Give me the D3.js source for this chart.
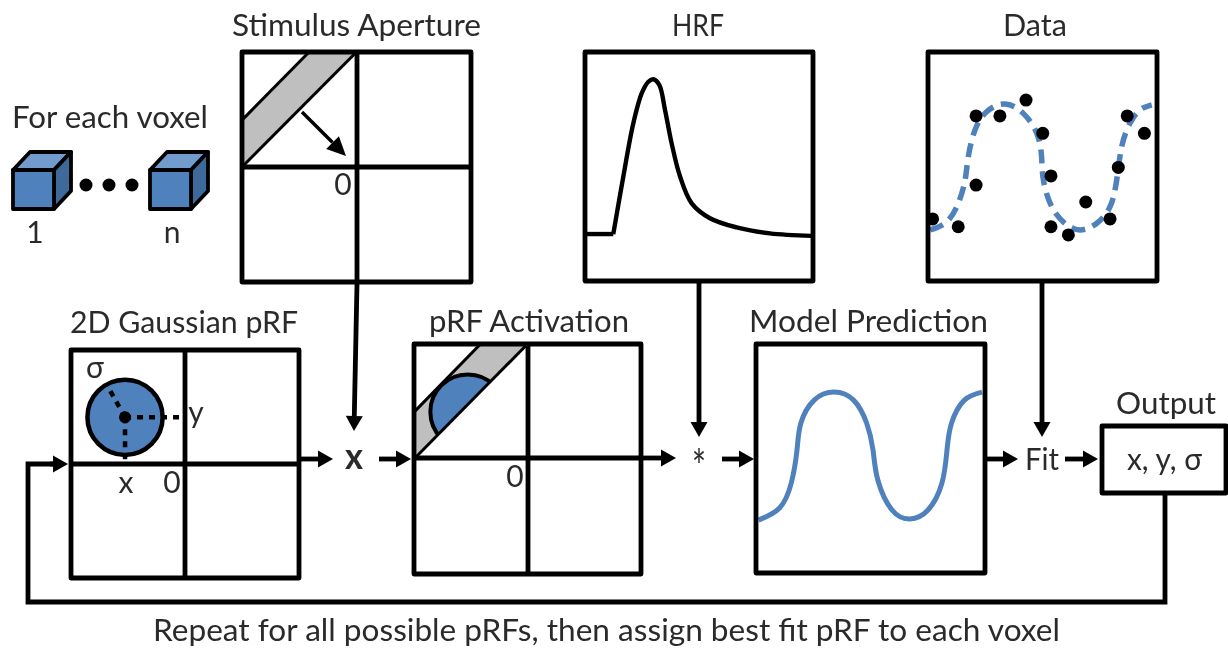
<!DOCTYPE html>
<html><head><meta charset="utf-8">
<script src="https://cdn.jsdelivr.net/npm/d3@7/dist/d3.min.js"></script>
<style>html,body{margin:0;padding:0;background:#fff;overflow:hidden}svg{display:block}
text{font-family:Lato,"Noto Sans",sans-serif;fill:#2b2b2b}</style></head><body>
<script>
// ---- Values (percent of each panel's width / height) ----
const hrfTime   = [0.7,12.4,16.8,21.2,24.9,27.8,30,32.6,35.1,38,41.7,46.8,54.8,66.5,81.1,99.4];
const hrfSignal = [20.5,20.5,45.6,68.9,82,87,88.1,85.6,74.7,60.1,45.6,33.9,27.4,23.4,20.8,19.7];
const modelTime   = [1.1,10.3,15.4,17.9,19.6,25.4,34.1,42.6,48.3,51.1,53.2,59.4,67.2,75.1,81.2,83.4,85.4,91,98.7];
const modelSignal = [23.1,28.4,39.3,53.7,65.5,75.5,79,75.5,65.5,53.7,40.6,27.5,23.6,27.5,39.3,53.7,65.5,75.5,79];
const fitTime   = [0.9,8.2,13.2,16.2,17.6,20.5,25.6,33.6,41.6,47.5,49.6,50.4,54,59.8,66.4,73.7,79.5,82.4,84.6,88.2,92.6,97.7];
const fitSignal = [22.3,25.9,33.9,44.1,54.3,65.9,73.9,77.3,73.2,64.5,54.3,44.1,32.5,25.2,22.3,25.2,32.5,44.1,58.7,68.9,74.7,76.9];
const dataTime   = [2,13.2,21,21,31.4,42.8,50.1,53.7,53.7,61.3,68.9,79.5,83.1,87,94.5];
const dataSignal = [27.1,23.7,72.1,41.9,72.1,79,64.5,45.9,23.7,20.1,34.5,27.1,49.6,72.1,64.5];
const apertureX = [0,50,29.3,0];
const apertureY = [50,100,100,70.4];
const prfCentreX = 23.7, prfCentreY = 70.5, prfSigma = 16.5;
const voxelLabels = ["1","n"];
const outputLabel = "x, y, σ";
const footerLabel = "Repeat for all possible pRFs, then assign best fit pRF to each voxel";

// ---- Layout ----
const W=1228,H=648,BLUE="#4f81bd",INK="#000";
const svg=d3.select("body").append("svg").attr("width",W).attr("height",H);
const defs=svg.append("defs");
defs.append("filter").attr("id","soft").attr("x",0).attr("y",0).attr("width","100%").attr("height","100%")
  .append("feGaussianBlur").attr("stdDeviation",0.6);
const root=svg.append("g").attr("filter","url(#soft)");
root.append("rect").attr("width",W).attr("height",H).attr("fill","#fff");

function scales(p){return {x:d3.scaleLinear([0,100],[p.x,p.x+p.w]),y:d3.scaleLinear([0,100],[p.y+p.h,p.y])};}
function box(p,sw=4.8){root.append("rect").attr("x",p.x).attr("y",p.y).attr("width",p.w).attr("height",p.h)
  .attr("fill","none").attr("stroke",INK).attr("stroke-width",sw).attr("stroke-linejoin","round");}
function seg(x1,y1,x2,y2,sw=4.8,extra){const l=root.append("line").attr("x1",x1).attr("y1",y1).attr("x2",x2).attr("y2",y2)
  .attr("stroke",INK).attr("stroke-width",sw);if(extra)l.attr("stroke-dasharray",extra);return l;}
function cross(p,cx,cy){seg(cx,p.y,cx,p.y+p.h);seg(p.x,cy,p.x+p.w,cy);}
function arrow(x1,y1,x2,y2,sw=4.8,len=15,hw=8.5){
  const a=Math.atan2(y2-y1,x2-x1),c=Math.cos(a),s=Math.sin(a),bx=x2-len*c,by=y2-len*s;
  seg(x1,y1,bx,by,sw);
  root.append("path").attr("d",d3.line()([[x2,y2],[bx-hw*s,by+hw*c],[bx+hw*s,by-hw*c]])+"Z").attr("fill",INK);
}
function label(t,x,y,o={}){
  const e=root.append("text").attr("x",x).attr("y",y).attr("font-size",o.size||30)
    .attr("text-anchor",o.anchor||"start").text(t);
  if(o.len)e.attr("textLength",o.len).attr("lengthAdjust","spacingAndGlyphs");
  if(o.weight)e.attr("font-weight",o.weight);
  return e;
}
const stim={x:242,y:52,w:229,h:230}, hrf={x:585,y:52,w:228,h:229}, dat={x:928,y:52,w:229,h:229},
      gauss={x:71,y:350,w:228,h:228}, act={x:414,y:344,w:227,h:230}, model={x:756,y:344,w:229,h:229},
      out={x:1102,y:426,w:124,h:67};

// ---- Aperture band helper ----
function band(p){
  const s=scales(p),pts=apertureX.map((d,i)=>[s.x(d),s.y(apertureY[i])]);
  root.append("path").attr("d",d3.line()(pts)+"Z").attr("fill","#bfbfbf");
  return {s,pts};
}
function bandEdges(pts){
  seg(pts[0][0],pts[0][1],pts[1][0],pts[1][1],3);
  seg(pts[3][0],pts[3][1],pts[2][0],pts[2][1],3);
}
const smooth=d3.curveCatmullRom.alpha(0.5);

// ---- Stimulus Aperture ----
{const {pts}=band(stim);bandEdges(pts);cross(stim,357,167);box(stim);
 arrow(302,112,346,156,3.4,19,9);}
// ---- HRF ----
{const s=scales(hrf);
 const pts=hrfTime.map((d,i)=>[s.x(d),s.y(hrfSignal[i])]);
 root.append("path").attr("d",d3.line()(pts.slice(0,2))).attr("fill","none").attr("stroke",INK).attr("stroke-width",4.4);
 root.append("path").attr("d",d3.line().curve(smooth)(pts.slice(1)))
  .attr("fill","none").attr("stroke",INK).attr("stroke-width",4.4);box(hrf);}
// ---- Data ----
{const s=scales(dat);
 root.append("path").attr("d",d3.line().curve(d3.curveNatural).x(d=>s.x(d)).y((d,i)=>s.y(fitSignal[i]))(fitTime))
  .attr("fill","none").attr("stroke",BLUE).attr("stroke-width",5.5).attr("stroke-dasharray","14 8");
 root.selectAll("circle.d").data(dataTime).join("circle").attr("class","d")
  .attr("cx",d=>s.x(d)).attr("cy",(d,i)=>s.y(dataSignal[i])).attr("r",6.5).attr("fill",INK);
 box(dat);}
// ---- 2D Gaussian pRF ----
{const s=scales(gauss),cx=s.x(prfCentreX),cy=s.y(prfCentreY),r=s.x(prfSigma)-s.x(0);
 root.append("circle").attr("cx",cx).attr("cy",cy).attr("r",r).attr("fill",BLUE).attr("stroke",INK).attr("stroke-width",4.5);
 cross(gauss,185,464);box(gauss);
 seg(cx,cy,183,cy,4.5,"6 6");seg(cx,cy,cx,464,4.5,"6 6");seg(cx,cy,107,385,4.5,"6 6");
 root.append("circle").attr("cx",cx).attr("cy",cy).attr("r",6).attr("fill",INK);}
// ---- pRF Activation ----
{const {s,pts}=band(act);
 defs.append("clipPath").attr("id","bandClip").append("path").attr("d",d3.line()(pts)+"Z");
 root.append("circle").attr("clip-path","url(#bandClip)").attr("cx",s.x(prfCentreX)).attr("cy",s.y(prfCentreY))
  .attr("r",s.x(prfSigma)-s.x(0)).attr("fill",BLUE).attr("stroke",INK).attr("stroke-width",4);
 bandEdges(pts);cross(act,528,458);box(act);}
// ---- Model Prediction ----
{const s=scales(model);
 root.append("path").attr("d",d3.line().curve(d3.curveNatural).x(d=>s.x(d)).y((d,i)=>s.y(modelSignal[i]))(modelTime))
  .attr("fill","none").attr("stroke",BLUE).attr("stroke-width",5);box(model);}
// ---- Output ----
box(out);

// ---- Connectors ----
root.append("path").attr("d",d3.line()([[1165,493],[1165,602],[28,602],[28,464],[54,464]]))
  .attr("fill","none").attr("stroke",INK).attr("stroke-width",4.8).attr("stroke-linejoin","miter");
arrow(50,464,68,464);
arrow(357,284,354,431);
arrow(299,459,333,459);
arrow(379,459,411,459);
arrow(641,458,676,458);
arrow(699,281,699,437);
arrow(722,459,754,459);
arrow(985,459,1018,459);
arrow(1042,281,1042,437);
arrow(1065,459,1098,459);

// ---- Voxels ----
const voxelX=d3.scalePoint(voxelLabels,[13,150]);
voxelLabels.forEach(v=>{
  const x=voxelX(v),y=170,w=41,h=39,ox=17,oy=18;
  const g=root.append("g").attr("stroke",INK).attr("stroke-width",3.8).attr("stroke-linejoin","round");
  g.append("path").attr("fill","#739cce").attr("d",d3.line()([[x,y],[x+ox,y-oy],[x+w+ox,y-oy],[x+w,y]])+"Z");
  g.append("path").attr("fill","#41699b").attr("d",d3.line()([[x+w,y],[x+w+ox,y-oy],[x+w+ox,y+h-oy],[x+w,y+h]])+"Z");
  g.append("rect").attr("x",x).attr("y",y).attr("width",w).attr("height",h).attr("fill",BLUE);
  label(v,x+22,243,{anchor:"middle"});
});
root.selectAll("circle.v").data(d3.range(3)).join("circle").attr("class","v")
  .attr("cx",d=>86+d*23).attr("cy",185).attr("r",6.5).attr("fill",INK);

// ---- Text ----
label("Stimulus Aperture",232,36,{len:249});
label("For each voxel",12,128,{len:196});
label("HRF",672,36,{len:52});
label("Data",1003,36,{len:64});
label("2D Gaussian pRF",70,333,{len:228});
label("pRF Activation",429,332,{len:200});
label("Model Prediction",749,332,{len:239});
label("Output",1116,414,{len:100});
label(outputLabel,1127,470,{len:75});
label("Fit",1025,470,{len:34});
label(footerLabel,153,641,{len:907});
label("0",343,195,{anchor:"middle"});
label("0",172,493,{anchor:"middle"});
label("0",515,487,{anchor:"middle"});
label("x",126,493,{anchor:"middle"});
label("σ",95,378,{anchor:"middle"});
label("y",196,423,{anchor:"middle"});
label("x",354,469,{anchor:"middle",size:36,weight:700,len:18});
label("*",699,483,{anchor:"middle",size:46,len:14});
</script></body></html>
